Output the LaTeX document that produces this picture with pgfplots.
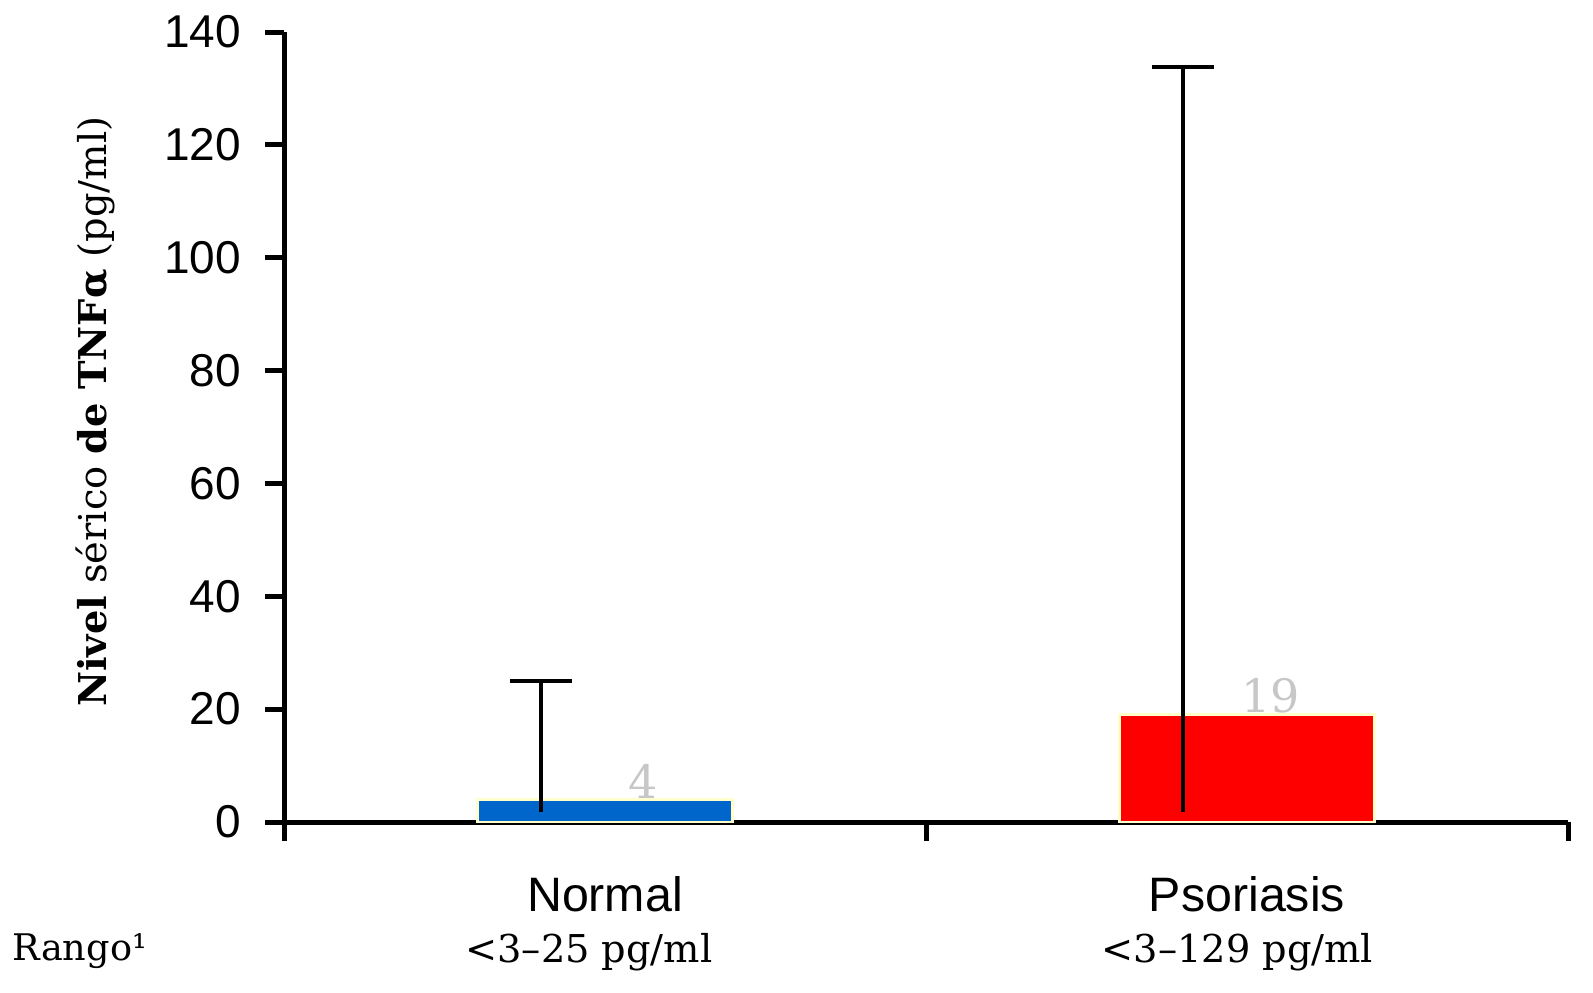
\documentclass[border=0pt]{standalone}
\usepackage{fontspec}
\setmainfont{DejaVu Serif}
\newfontfamily\sansf{Liberation Sans}
\usepackage{pgfplots}
\pgfplotsset{compat=1.18}
\definecolor{barblue}{HTML}{0066CC}
\definecolor{barred}{HTML}{FF0000}
\definecolor{edge}{HTML}{FFFFCC}
\begin{document}
\begin{tikzpicture}
\begin{axis}[
  at={(0,0)}, anchor=south west,
  scale only axis, width=385.2pt, height=237pt,
  xmin=-0.5, xmax=1.5, ymin=0, ymax=140,
  axis x line*=bottom, axis y line*=left,
  axis line style={-, line width=1.5pt, black},
  xtick={-0.5,0.5,1.5}, xticklabels={},
  ytick={0,20,...,140},
  tick align=outside,
  major tick length=5.7pt,
  tick style={line width=1.5pt, black},
  /pgf/number format/assume math mode=true,
  yticklabel style={font=\sansf\fontsize{13.8}{16}\selectfont, inner sep=0pt, xshift=-7pt},
  clip=false,
]
\addplot[ybar, bar shift=0pt, bar width=0.397, fill=barblue, draw=edge, line width=0.8pt,
  nodes near coords, every node near coord/.append style={font=\fontsize{13.8}{16}\selectfont, text=black!22, anchor=south, inner sep=0pt, xshift=11.4pt}]
  coordinates {(0,4)};
\addplot[ybar, bar shift=0pt, bar width=0.397, fill=barred, draw=edge, line width=0.8pt,
  nodes near coords, every node near coord/.append style={font=\fontsize{13.8}{16}\selectfont, text=black!22, anchor=south, inner sep=0pt, xshift=7pt}]
  coordinates {(1,19)};
\addplot[draw=none, mark=none,
  error bars/.cd, y dir=plus, y explicit,
  error bar style={draw=black, solid, line width=1.3pt},
  error mark options={draw=black, rotate=90, mark size=9.3pt, line width=1.3pt}]
  coordinates {(-0.1,1.8) +- (0,23.2) (0.9,1.8) +- (0,132)};
\node[font=\sansf\fontsize{14.5}{16}\selectfont, anchor=base] at (axis cs:0,0) [yshift=-26.7pt] {Normal};
\node[font=\sansf\fontsize{14.5}{16}\selectfont, anchor=base] at (axis cs:1,0) [yshift=-26.7pt] {Psoriasis};
\node[font=\fontsize{11.5}{13}\selectfont, anchor=base] at (axis cs:-0.025,0) [yshift=-42pt] {<3–25 pg/ml};
\node[font=\fontsize{11.5}{13}\selectfont, anchor=base] at (axis cs:0.985,0) [yshift=-42pt] {<3–129 pg/ml};
\node[font=\fontsize{11}{13}\selectfont, anchor=base west, inner sep=0pt] at (rel axis cs:0,0) [xshift=-81.6pt, yshift=-41.4pt] {Rango¹};
\node[font=\fontsize{11.5}{13}\selectfont, rotate=90, anchor=center, inner sep=0pt] at ([xshift=-56.7pt, yshift=4.6pt]rel axis cs:0,0.5) {\textbf{Nivel} sérico \textbf{de TNFα} (pg/ml)};
\end{axis}
\pgfresetboundingbox
\useasboundingbox (-85.2pt,-51pt) rectangle (392.7pt,246.6pt);
\end{tikzpicture}
\end{document}
